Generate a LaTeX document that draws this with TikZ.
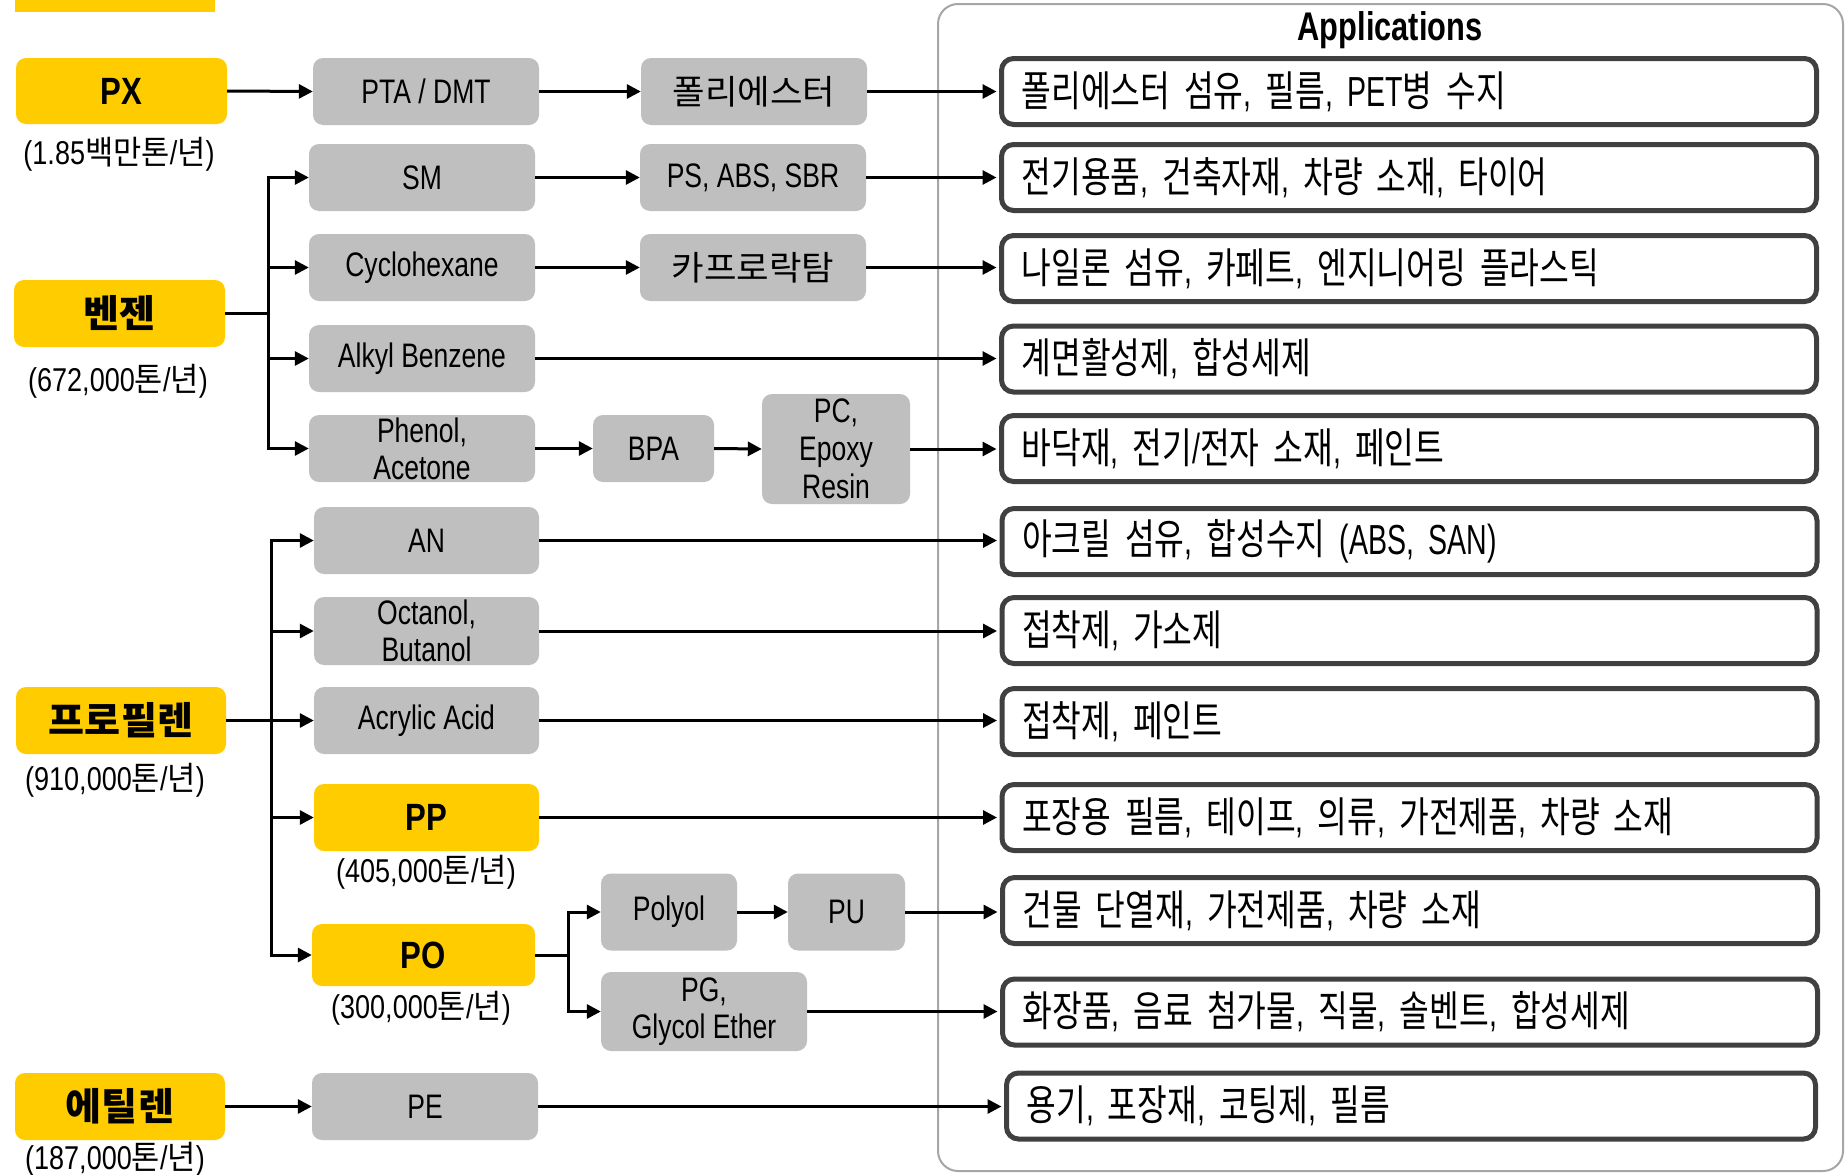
\documentclass[tikz,border=0pt]{standalone}
\usepackage{fontspec}
\setmainfont[FakeStretch=0.82]{Liberation Sans}
\newfontfamily\latG[FakeStretch=0.78]{Liberation Sans}
\newfontfamily\latA[FakeStretch=0.68]{Liberation Sans}
\newfontfamily\latT[FakeStretch=0.77]{Liberation Sans}
\newfontfamily\krG[FakeStretch=1.04]{Noto Sans CJK KR}
\newfontfamily\krA[FakeStretch=0.77]{Noto Sans CJK KR}
\newfontfamily\krB[FakeStretch=1.03]{Noto Sans CJK KR}
\newfontfamily\krC[FakeStretch=0.93]{Noto Sans CJK KR}
\let\krcur\krC
\def\krfont{\krcur}
\usetikzlibrary{arrows.meta}
\definecolor{ylw}{HTML}{FFCC00}
\definecolor{gry}{HTML}{BFBFBF}
\definecolor{bdr}{HTML}{404040}
\definecolor{frm}{HTML}{A6A6A6}
\XeTeXinterchartokenstate=1
\newcount\hgc
\hgc="AC00
\loop
  \XeTeXcharclass\hgc=7
  \advance\hgc by 1
\ifnum\hgc<"D7A4 \repeat
\XeTeXinterchartoks 0 7 = {\begingroup\krfont}
\XeTeXinterchartoks 4095 7 = {\begingroup\krfont}
\XeTeXinterchartoks 7 0 = {\endgroup}
\XeTeXinterchartoks 7 4095 = {\endgroup}
\begin{document}
\begin{tikzpicture}[x=1pt,y=-1pt,
  base/.style={rounded corners=10pt, inner sep=0pt, align=center},
  ybox/.style={base, fill=ylw, font={\fontsize{38}{42}\selectfont\bfseries\let\krcur\krB}},
  gbox/.style={base, fill=gry, font={\fontsize{34}{37}\selectfont\latG\let\krcur\krG}},
  abox/.style={rounded corners=12pt, draw=bdr, line width=5pt, fill=white, inner xsep=20pt, inner ysep=0pt, align=left, minimum height=66pt, minimum width=815pt, text width=775pt, font={\fontsize{42}{48}\selectfont\latA\let\krcur\krA}},
  capt/.style={font={\fontsize{33}{36}\selectfont\let\krcur\krC}, inner sep=0pt},
  arr/.style={line width=3pt, -{Triangle[length=14pt,width=14pt]}},
  ln/.style={line width=3pt}
]
\fill[white] (0,0) rectangle (1845,1175);
\useasboundingbox (0,0) rectangle (1845,1175);
\fill[ylw] (15,0) rectangle (215,12);
% frame
\node[draw=frm, line width=2pt, rounded corners=20pt, minimum width=905pt, minimum height=1167pt, inner sep=0pt] (frame) at (1390.5,587.5) {};
\node[font={\fontsize{40}{44}\selectfont\latT\bfseries}, inner sep=0pt] (title) at (1390,30) {Applications};
% yellow
\node[ybox, minimum width=211pt, minimum height=66pt] (px) at (121.5,91) {PX};
\node[ybox, minimum width=211pt, minimum height=67pt] (benz) at (119.5,313.5) {벤젠};
\node[ybox, minimum width=210pt, minimum height=67pt] (prop) at (121,720.5) {프로필렌};
\node[ybox, minimum width=225pt, minimum height=67pt] (pp) at (426.5,817.5) {PP};
\node[ybox, minimum width=223pt, minimum height=62pt] (po) at (423.5,955) {PO};
\node[ybox, minimum width=210pt, minimum height=67pt] (eth) at (120,1106.5) {에틸렌};
% capacities
\node[capt] (c1) at (119,154) {(1.85백만톤/년)};
\node[capt] (c2) at (118,381) {(672,000톤/년)};
\node[capt] (c3) at (115,780) {(910,000톤/년)};
\node[capt] (c4) at (426,872) {(405,000톤/년)};
\node[capt] (c5) at (421,1008) {(300,000톤/년)};
\node[capt] (c6) at (115,1159) {(187,000톤/년)};
% gray
\node[gbox, minimum width=226pt, minimum height=67pt] (pta) at (426,91.5) {PTA / DMT};
\node[gbox, minimum width=226pt, minimum height=67pt] (pest) at (754,91.5) {폴리에스터};
\node[gbox, minimum width=226pt, minimum height=67pt] (sm) at (422,177.5) {SM};
\node[gbox, minimum width=226pt, minimum height=67pt] (ps) at (753,177.5) {PS, ABS, SBR};
\node[gbox, minimum width=226pt, minimum height=67pt] (cyc) at (422,267.5) {Cyclohexane};
\node[gbox, minimum width=226pt, minimum height=67pt] (cpl) at (753,267.5) {카프로락탐};
\node[gbox, minimum width=226pt, minimum height=67pt] (alk) at (422,358.5) {Alkyl Benzene};
\node[gbox, minimum width=226pt, minimum height=67pt] (phe) at (422,448.5) {Phenol,\\Acetone};
\node[gbox, minimum width=121pt, minimum height=67pt] (bpa) at (653.5,448.5) {BPA};
\node[gbox, minimum width=148pt, minimum height=110pt, font={\fontsize{34}{38}\selectfont\latG}] (pce) at (836,449) {PC,\\Epoxy\\Resin};
\node[gbox, minimum width=225pt, minimum height=67pt] (an) at (426.5,540.5) {AN};
\node[gbox, minimum width=225pt, minimum height=68pt] (oct) at (426.5,631) {Octanol,\\Butanol};
\node[gbox, minimum width=225pt, minimum height=67pt] (acr) at (426.5,720.5) {Acrylic Acid};
\node[gbox, minimum width=136pt, minimum height=77pt] (pol) at (669,912) {Polyol};
\node[gbox, minimum width=117pt, minimum height=77pt] (pu) at (846.5,912) {PU};
\node[gbox, minimum width=206pt, minimum height=79pt] (pg) at (704,1011.5) {PG,\\Glycol Ether};
\node[gbox, minimum width=226pt, minimum height=67pt] (pe) at (425,1106.5) {PE};
% applications
\node[abox] (a1) at (1409,91.5) {폴리에스터 섬유, 필름, PET병 수지};
\node[abox] (a2) at (1409,177.5) {전기용품, 건축자재, 차량 소재, 타이어};
\node[abox] (a3) at (1409,268.5) {나일론 섬유, 카페트, 엔지니어링 플라스틱};
\node[abox] (a4) at (1409,359) {계면활성제, 합성세제};
\node[abox] (a5) at (1409,448.5) {바닥재, 전기/전자 소재, 페인트};
\node[abox] (a6) at (1409.5,541.5) {아크릴 섬유, 합성수지 (ABS, SAN)};
\node[abox] (a7) at (1409.5,630.5) {접착제, 가소제};
\node[abox] (a8) at (1409.5,721.5) {접착제, 페인트};
\node[abox] (a9) at (1409.5,817.5) {포장용 필름, 테이프, 의류, 가전제품, 차량 소재};
\node[abox] (a10) at (1410,910.5) {건물 단열재, 가전제품, 차량 소재};
\node[abox] (a11) at (1410,1012) {화장품, 음료 첨가물, 직물, 솔벤트, 합성세제};
\node[abox, minimum width=809pt, text width=769pt] (a12) at (1411,1106) {용기, 포장재, 코팅제, 필름};
% connectors
\draw[arr] (px.east) -- (pta.west);
\draw[arr] (pta.east) -- (pest.west);
\draw[arr] (sm.east) -- (ps.west);
\draw[arr] (cyc.east) -- (cpl.west);
\draw[arr] (phe.east) -- (bpa.west);
\draw[arr] (bpa.east) -- (pce.west);
\draw[arr] (pol.east) -- (pu.west);
\draw[arr] (eth.east) -- (pe.west);
\coordinate (bt) at (268,313.5);
\draw[ln] (benz.east) -- (bt);
\foreach \t in {sm,cyc,alk,phe} \draw[arr] (bt) |- (\t.west);
\coordinate (pt) at (271,720.5);
\draw[ln] (prop.east) -- (pt);
\foreach \t in {an,oct,acr,pp,po} \draw[arr] (pt) |- (\t.west);
\coordinate (pot) at (568,955);
\draw[ln] (po.east) -- (pot);
\foreach \t in {pol,pg} \draw[arr] (pot) |- (\t.west);
\foreach \s/\t in {pest/a1,ps/a2,cpl/a3,alk/a4,pce/a5,an/a6,oct/a7,acr/a8,pp/a9,pu/a10,pg/a11,pe/a12}
  \draw[arr, shorten >=2.5pt] (\s.east) -- (\s.east -| \t.west);
\end{tikzpicture}
\end{document}
